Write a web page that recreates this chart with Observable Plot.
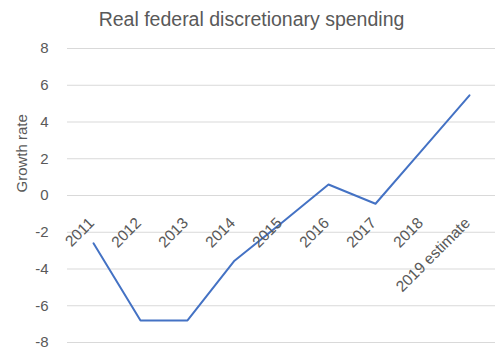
<!DOCTYPE html>
<html>
<head>
<meta charset="utf-8">
<script src="https://cdn.jsdelivr.net/npm/d3@7"></script>
<script src="https://cdn.jsdelivr.net/npm/@observablehq/plot@0.6"></script>
<style>
  html, body { margin: 0; padding: 0; background: #fff; }
  #wrap { width: 503px; height: 357px; overflow: hidden; font-family: "Liberation Sans", Arial, sans-serif; }
  #title { height: 34px; line-height: 38px; text-align: center; font-size: 19.5px; color: #595959; }
</style>
</head>
<body>
<div id="wrap">
  <div id="title">Real federal discretionary spending</div>
  <div id="chart"></div>
</div>
<script>
const years = ["2011", "2012", "2013", "2014", "2015", "2016", "2017", "2018", "2019 estimate"];
const growth = [-2.6, -6.8, -6.8, -3.55, -1.5, 0.6, -0.45, 2.5, 5.45];
const yTicks = [-8, -6, -4, -2, 0, 2, 4, 6, 8];
const yTitle = "Growth rate";

const data = years.map((y, i) => ({year: y, value: growth[i]}));
const labelData = years.map(y => ({year: y, value: 0}));

const chart = Plot.plot({
  width: 503,
  height: 323,
  marginTop: 14,
  marginBottom: 15,
  marginLeft: 67,
  marginRight: 8,
  style: {fontFamily: "'Liberation Sans', Arial, sans-serif", fontSize: "15px", color: "#595959", background: "#fff"},
  x: {type: "point", domain: years, padding: 0.5, axis: null},
  y: {domain: [-8, 8], ticks: yTicks, tickSize: 0, tickPadding: 19, label: null,
      tickFormat: d => d < 0 ? "-" + Math.abs(d) : String(d)},
  marks: [
    Plot.gridY(yTicks, {stroke: "#d9d9d9", strokeOpacity: 1, strokeWidth: 1}),
    Plot.line(data, {x: "year", y: "value", stroke: "#4472C4", strokeWidth: 2}),
    Plot.text(labelData, {x: "year", y: "value", text: "year", rotate: -45, textAnchor: "end", dx: -2, dy: 25, fill: "#595959", fontSize: 15.5}),
    Plot.text([yTitle], {frameAnchor: "left", dx: -45, dy: -3, rotate: -90, fill: "#595959", fontSize: 15})
  ]
});
document.getElementById("chart").appendChild(chart);
</script>
</body>
</html>
